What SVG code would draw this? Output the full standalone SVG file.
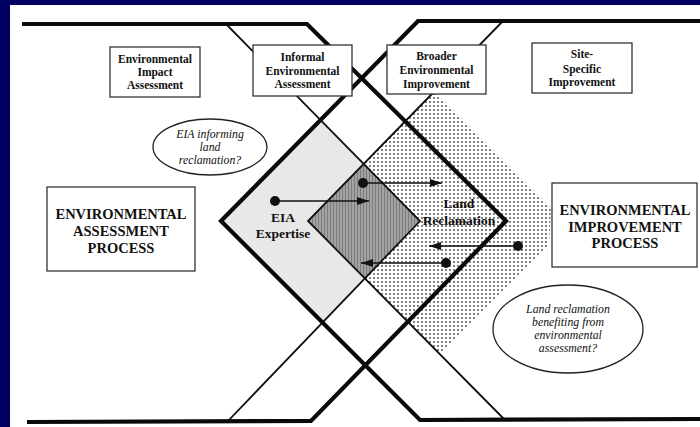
<svg xmlns="http://www.w3.org/2000/svg" width="700" height="427" viewBox="0 0 700 427">
<defs>
<pattern id="dots" width="4" height="4" patternUnits="userSpaceOnUse">
<rect width="4" height="4" fill="#ffffff"/>
<circle cx="2" cy="2" r="0.9" fill="#444"/>
</pattern>
<pattern id="vhatch" width="3" height="3" patternUnits="userSpaceOnUse">
<rect width="3" height="3" fill="#a2a2a2"/>
<rect width="1" height="3" fill="#7c7c7c"/>
</pattern>
<marker id="ah" markerUnits="userSpaceOnUse" markerWidth="13" markerHeight="9" refX="12" refY="4.5" orient="auto">
<path d="M0,0.5 L12,4.5 L0,8.5 Z" fill="#111"/>
</marker>
<style>
.thick{fill:none;stroke:#0a0a0a;stroke-width:4.2;stroke-linejoin:miter}
.thin{fill:none;stroke:#111;stroke-width:1.8}
.box{fill:#fff;stroke:#333;stroke-width:1.3}
.ell{fill:#fff;stroke:#222;stroke-width:1.3}
.bt{font-family:"Liberation Serif","Times New Roman",serif;font-weight:bold;font-size:11.5px;fill:#111;text-anchor:middle}
.big{font-family:"Liberation Serif","Times New Roman",serif;font-weight:bold;font-size:14.5px;fill:#111;text-anchor:middle}
.lab{font-family:"Liberation Serif","Times New Roman",serif;font-weight:bold;font-size:13.5px;fill:#111;text-anchor:middle}
.it{font-family:"Liberation Serif","Times New Roman",serif;font-style:italic;font-size:11.8px;fill:#111;text-anchor:middle}
.arr{stroke:#111;stroke-width:1.6;fill:none;marker-end:url(#ah)}
.dot{fill:#111}
</style>
</defs>
<rect width="700" height="427" fill="#000064"/>
<rect x="10" y="5" width="690" height="422" fill="#ffffff"/>

<g id="regions">
<polygon points="221,221 320.5,120.2 420,221 322.5,322.5" fill="#e8e8e8"/>
<polygon points="308,221 434,91 551,208 549,245 440,354" fill="url(#dots)"/>
<polygon points="308,221 363.7,163.8 420,221 365,278.3" fill="url(#vhatch)"/>
</g>

<g id="frame">
<polyline class="thin" points="227,25 420,221 228,421"/>
<polyline class="thin" points="502,22 308,221 505,420"/>
<polyline class="thick" points="22,24 307,24 506,221 311,421 27,422"/>
<polyline class="thick" points="700,21 418,21 221,221 420,420 700,419"/>
</g>

<g id="eia-box">
<rect class="box" x="110" y="47" width="90" height="50"/>
<text class="bt" x="155" y="63">Environmental</text>
<text class="bt" x="155" y="76">Impact</text>
<text class="bt" x="155" y="89">Assessment</text>
</g>

<g id="informal-box">
<rect class="box" x="253" y="45" width="99" height="51"/>
<text class="bt" x="302.5" y="61">Informal</text>
<text class="bt" x="302.5" y="74.5">Environmental</text>
<text class="bt" x="302.5" y="88">Assessment</text>
</g>

<g id="broader-box">
<rect class="box" x="387" y="45" width="99" height="49"/>
<text class="bt" x="436.5" y="60">Broader</text>
<text class="bt" x="436.5" y="74">Environmental</text>
<text class="bt" x="436.5" y="87.5">Improvement</text>
</g>

<g id="site-box">
<rect class="box" x="532" y="43" width="100" height="50"/>
<text class="bt" x="582" y="58">Site-</text>
<text class="bt" x="582" y="72.5">Specific</text>
<text class="bt" x="582" y="86">Improvement</text>
</g>

<g id="eap-box">
<rect class="box" x="47" y="187" width="148" height="84"/>
<text class="big" x="121" y="219">ENVIRONMENTAL</text>
<text class="big" x="121" y="236">ASSESSMENT</text>
<text class="big" x="121" y="252.5">PROCESS</text>
</g>

<g id="eip-box">
<rect class="box" x="552" y="183" width="145" height="84"/>
<text class="big" x="625" y="215">ENVIRONMENTAL</text>
<text class="big" x="625" y="231.5">IMPROVEMENT</text>
<text class="big" x="625" y="247.5">PROCESS</text>
</g>

<g id="q1">
<ellipse class="ell" cx="210" cy="147" rx="57" ry="28"/>
<text class="it" x="210" y="138">EIA informing</text>
<text class="it" x="210" y="151">land</text>
<text class="it" x="210" y="164">reclamation?</text>
</g>

<g id="q2">
<ellipse class="ell" cx="568" cy="329" rx="75" ry="44"/>
<text class="it" x="568" y="313">Land reclamation</text>
<text class="it" x="568" y="326">benefiting from</text>
<text class="it" x="568" y="339">environmental</text>
<text class="it" x="568" y="352">assessment?</text>
</g>

<g id="eia-expertise">
<text class="lab" x="283" y="222">EIA</text>
<text class="lab" x="283" y="238">Expertise</text>
</g>

<g id="land-reclamation">
<text class="lab" x="459" y="208">Land</text>
<text class="lab" x="459" y="225">Reclamation</text>
</g>

<g id="connectors">
<line class="arr" x1="275" y1="201" x2="369" y2="201"/>
<circle class="dot" cx="275" cy="201" r="5"/>
<line class="arr" x1="363" y1="183" x2="442" y2="183"/>
<circle class="dot" cx="363" cy="183" r="5"/>
<line class="arr" x1="518" y1="246" x2="429" y2="246"/>
<circle class="dot" cx="518" cy="246" r="5"/>
<line class="arr" x1="446" y1="263" x2="361" y2="263"/>
<circle class="dot" cx="446" cy="263" r="5"/>
</g>
</svg>
